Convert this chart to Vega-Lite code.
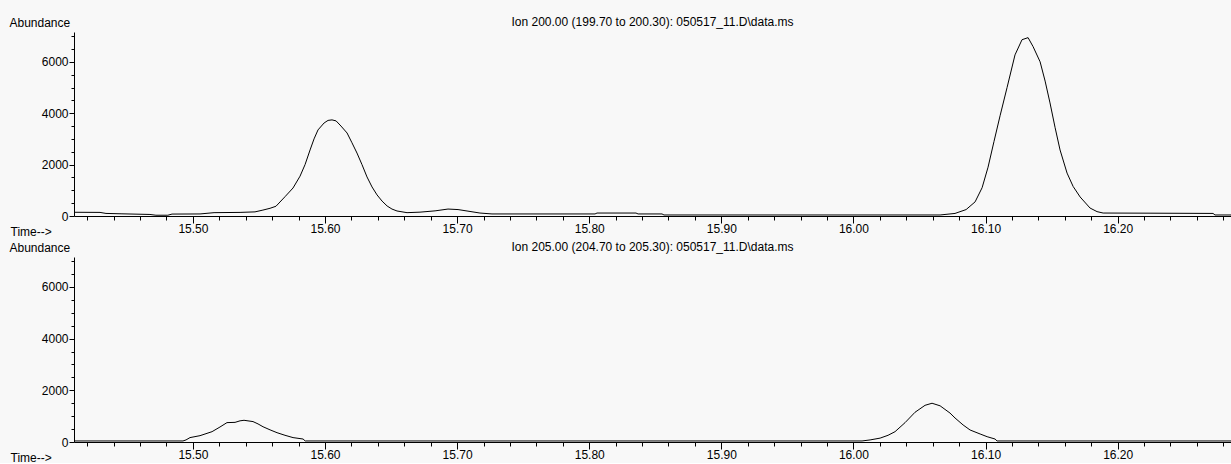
{
  "$schema": "https://vega.github.io/schema/vega-lite/v6.json",
  "background": "#f8f8f8",
  "padding": {"left": 9, "top": 16, "right": 0, "bottom": 0},
  "bounds": "flush",
  "spacing": 41,
  "config": {
    "view": {"stroke": null},
    "font": "Liberation Sans",
    "axis": {
      "labelFont": "Liberation Sans", "labelFontSize": 12, "labelColor": "#000",
      "titleFont": "Liberation Sans", "titleFontSize": 12, "titleFontWeight": "normal", "titleColor": "#000",
      "domainColor": "#000", "tickColor": "#000", "grid": false, "labelOverlap": false, "labelFlush": false
    },
    "title": {"font": "Liberation Sans", "fontSize": 12, "fontWeight": "normal", "color": "#000", "anchor": "middle", "offset": -13}
  },
  "datasets": {
    "chrom": [
      {"ion": "200", "t": 15.410, "abundance": 145},
      {"ion": "200", "t": 15.4297, "abundance": 140},
      {"ion": "200", "t": 15.4342, "abundance": 100},
      {"ion": "200", "t": 15.4463, "abundance": 85},
      {"ion": "200", "t": 15.4675, "abundance": 60},
      {"ion": "200", "t": 15.4720, "abundance": 30},
      {"ion": "200", "t": 15.4810, "abundance": 30},
      {"ion": "200", "t": 15.4842, "abundance": 75},
      {"ion": "200", "t": 15.5054, "abundance": 80},
      {"ion": "200", "t": 15.5160, "abundance": 130},
      {"ion": "200", "t": 15.5357, "abundance": 140},
      {"ion": "200", "t": 15.5470, "abundance": 160},
      {"ion": "200", "t": 15.5530, "abundance": 230},
      {"ion": "200", "t": 15.5584, "abundance": 300},
      {"ion": "200", "t": 15.5629, "abundance": 380},
      {"ion": "200", "t": 15.5697, "abundance": 750},
      {"ion": "200", "t": 15.5758, "abundance": 1090},
      {"ion": "200", "t": 15.5811, "abundance": 1550},
      {"ion": "200", "t": 15.5849, "abundance": 2000},
      {"ion": "200", "t": 15.5887, "abundance": 2570},
      {"ion": "200", "t": 15.5917, "abundance": 3000},
      {"ion": "200", "t": 15.5947, "abundance": 3350},
      {"ion": "200", "t": 15.5993, "abundance": 3620},
      {"ion": "200", "t": 15.6023, "abundance": 3720},
      {"ion": "200", "t": 15.6053, "abundance": 3740},
      {"ion": "200", "t": 15.6084, "abundance": 3700},
      {"ion": "200", "t": 15.6121, "abundance": 3500},
      {"ion": "200", "t": 15.6167, "abundance": 3230},
      {"ion": "200", "t": 15.6204, "abundance": 2850},
      {"ion": "200", "t": 15.6242, "abundance": 2450},
      {"ion": "200", "t": 15.6280, "abundance": 2000},
      {"ion": "200", "t": 15.6318, "abundance": 1520},
      {"ion": "200", "t": 15.6356, "abundance": 1130},
      {"ion": "200", "t": 15.6394, "abundance": 820},
      {"ion": "200", "t": 15.6432, "abundance": 580},
      {"ion": "200", "t": 15.6470, "abundance": 390},
      {"ion": "200", "t": 15.6507, "abundance": 270},
      {"ion": "200", "t": 15.6545, "abundance": 195},
      {"ion": "200", "t": 15.6621, "abundance": 130},
      {"ion": "200", "t": 15.6719, "abundance": 150},
      {"ion": "200", "t": 15.6833, "abundance": 200},
      {"ion": "200", "t": 15.6931, "abundance": 270},
      {"ion": "200", "t": 15.7007, "abundance": 250},
      {"ion": "200", "t": 15.7075, "abundance": 195},
      {"ion": "200", "t": 15.7173, "abundance": 115},
      {"ion": "200", "t": 15.7264, "abundance": 80},
      {"ion": "200", "t": 15.8044, "abundance": 80},
      {"ion": "200", "t": 15.8059, "abundance": 115},
      {"ion": "200", "t": 15.8354, "abundance": 115},
      {"ion": "200", "t": 15.8370, "abundance": 80},
      {"ion": "200", "t": 15.8551, "abundance": 80},
      {"ion": "200", "t": 15.8566, "abundance": 40},
      {"ion": "200", "t": 16.0656, "abundance": 40},
      {"ion": "200", "t": 16.0769, "abundance": 100},
      {"ion": "200", "t": 16.0853, "abundance": 250},
      {"ion": "200", "t": 16.0921, "abundance": 550},
      {"ion": "200", "t": 16.0974, "abundance": 1100},
      {"ion": "200", "t": 16.1019, "abundance": 1900},
      {"ion": "200", "t": 16.1064, "abundance": 2900},
      {"ion": "200", "t": 16.1110, "abundance": 3900},
      {"ion": "200", "t": 16.1163, "abundance": 5000},
      {"ion": "200", "t": 16.1223, "abundance": 6270},
      {"ion": "200", "t": 16.1276, "abundance": 6860},
      {"ion": "200", "t": 16.1322, "abundance": 6940},
      {"ion": "200", "t": 16.1360, "abundance": 6590},
      {"ion": "200", "t": 16.1413, "abundance": 6000},
      {"ion": "200", "t": 16.1451, "abundance": 5250},
      {"ion": "200", "t": 16.1488, "abundance": 4400},
      {"ion": "200", "t": 16.1526, "abundance": 3450},
      {"ion": "200", "t": 16.1564, "abundance": 2570},
      {"ion": "200", "t": 16.1617, "abundance": 1670},
      {"ion": "200", "t": 16.1663, "abundance": 1150},
      {"ion": "200", "t": 16.1716, "abundance": 740},
      {"ion": "200", "t": 16.1791, "abundance": 310},
      {"ion": "200", "t": 16.1844, "abundance": 170},
      {"ion": "200", "t": 16.1890, "abundance": 115},
      {"ion": "200", "t": 16.2245, "abundance": 110},
      {"ion": "200", "t": 16.2722, "abundance": 100},
      {"ion": "200", "t": 16.2737, "abundance": 40},
      {"ion": "200", "t": 16.2858, "abundance": 40},
      {"ion": "205", "t": 15.410, "abundance": 40},
      {"ion": "205", "t": 15.4925, "abundance": 40},
      {"ion": "205", "t": 15.4948, "abundance": 80},
      {"ion": "205", "t": 15.4978, "abundance": 170},
      {"ion": "205", "t": 15.5054, "abundance": 245},
      {"ion": "205", "t": 15.5145, "abundance": 400},
      {"ion": "205", "t": 15.5205, "abundance": 580},
      {"ion": "205", "t": 15.5258, "abundance": 750},
      {"ion": "205", "t": 15.5319, "abundance": 760},
      {"ion": "205", "t": 15.5357, "abundance": 820},
      {"ion": "205", "t": 15.5387, "abundance": 840},
      {"ion": "205", "t": 15.5455, "abundance": 790},
      {"ion": "205", "t": 15.5493, "abundance": 700},
      {"ion": "205", "t": 15.5531, "abundance": 590},
      {"ion": "205", "t": 15.5584, "abundance": 470},
      {"ion": "205", "t": 15.5637, "abundance": 360},
      {"ion": "205", "t": 15.5697, "abundance": 260},
      {"ion": "205", "t": 15.5758, "abundance": 170},
      {"ion": "205", "t": 15.5834, "abundance": 115},
      {"ion": "205", "t": 15.5850, "abundance": 40},
      {"ion": "205", "t": 16.0065, "abundance": 40},
      {"ion": "205", "t": 16.0126, "abundance": 80},
      {"ion": "205", "t": 16.0202, "abundance": 150},
      {"ion": "205", "t": 16.0262, "abundance": 260},
      {"ion": "205", "t": 16.0315, "abundance": 400},
      {"ion": "205", "t": 16.0391, "abundance": 750},
      {"ion": "205", "t": 16.0466, "abundance": 1150},
      {"ion": "205", "t": 16.0542, "abundance": 1420},
      {"ion": "205", "t": 16.0595, "abundance": 1500},
      {"ion": "205", "t": 16.0656, "abundance": 1400},
      {"ion": "205", "t": 16.0731, "abundance": 1120},
      {"ion": "205", "t": 16.0769, "abundance": 930},
      {"ion": "205", "t": 16.0830, "abundance": 660},
      {"ion": "205", "t": 16.0883, "abundance": 465},
      {"ion": "205", "t": 16.0959, "abundance": 310},
      {"ion": "205", "t": 16.1012, "abundance": 205},
      {"ion": "205", "t": 16.1072, "abundance": 115},
      {"ion": "205", "t": 16.1087, "abundance": 40},
      {"ion": "205", "t": 16.2858, "abundance": 40}
    ]
  },
  "vconcat": [
    {
      "width": 1157,
      "height": 184,
      "title": {"text": "Ion 200.00 (199.70 to 200.30): 050517_11.D\\data.ms"},
      "data": {"name": "chrom"},
      "transform": [{"filter": "datum.ion == '200'"}],
      "mark": {"type": "line", "color": "#000", "strokeWidth": 1, "clip": true, "interpolate": "linear"},
      "encoding": {
        "x": {
          "field": "t", "type": "quantitative",
          "scale": {"domain": [15.41, 16.2858], "nice": false, "zero": false},
          "axis": {
            "title": "Time-->", "titleX": -64, "titleY": 15, "titleAlign": "left", "titleBaseline": "middle", "titleAnchor": null,
            "values": [15.42,15.44,15.46,15.48,15.5,15.52,15.54,15.56,15.58,15.6,15.62,15.64,15.66,15.68,15.7,15.72,15.74,15.76,15.78,15.8,15.82,15.84,15.86,15.88,15.9,15.92,15.94,15.96,15.98,16.0,16.02,16.04,16.06,16.08,16.1,16.12,16.14,16.16,16.18,16.2,16.22,16.24,16.26,16.28],
            "format": ".2f",
            "labelExpr": "abs(datum.value*10 - round(datum.value*10)) < 0.01 ? datum.label : ''",
            "tickSize": {"condition": {"test": "abs(datum.value*10 - round(datum.value*10)) < 0.01", "value": 7}, "value": 4},
            "labelPadding": 0
          }
        },
        "y": {
          "field": "abundance", "type": "quantitative",
          "scale": {"domain": [0, 7160], "nice": false},
          "axis": {
            "title": "Abundance", "titleAngle": 0, "titleX": -65, "titleY": -10, "titleAlign": "left", "titleBaseline": "middle", "titleAnchor": null,
            "values": [0,500,1000,1500,2000,2500,3000,3500,4000,4500,5000,5500,6000,6500,7000],
            "format": "d",
            "labelExpr": "datum.value % 2000 == 0 ? datum.label : ''",
            "tickSize": {"condition": {"test": "datum.value % 2000 == 0", "value": 5}, "value": 3},
            "labelPadding": 1
          }
        }
      }
    },
    {
      "width": 1157,
      "height": 185,
      "title": {"text": "Ion 205.00 (204.70 to 205.30): 050517_11.D\\data.ms"},
      "data": {"name": "chrom"},
      "transform": [{"filter": "datum.ion == '205'"}],
      "mark": {"type": "line", "color": "#000", "strokeWidth": 1, "clip": true, "interpolate": "linear"},
      "encoding": {
        "x": {
          "field": "t", "type": "quantitative",
          "scale": {"domain": [15.41, 16.2858], "nice": false, "zero": false},
          "axis": {
            "title": "Time-->", "titleX": -64, "titleY": 15, "titleAlign": "left", "titleBaseline": "middle", "titleAnchor": null,
            "values": [15.42,15.44,15.46,15.48,15.5,15.52,15.54,15.56,15.58,15.6,15.62,15.64,15.66,15.68,15.7,15.72,15.74,15.76,15.78,15.8,15.82,15.84,15.86,15.88,15.9,15.92,15.94,15.96,15.98,16.0,16.02,16.04,16.06,16.08,16.1,16.12,16.14,16.16,16.18,16.2,16.22,16.24,16.26,16.28],
            "format": ".2f",
            "labelExpr": "abs(datum.value*10 - round(datum.value*10)) < 0.01 ? datum.label : ''",
            "tickSize": {"condition": {"test": "abs(datum.value*10 - round(datum.value*10)) < 0.01", "value": 7}, "value": 4},
            "labelPadding": 0
          }
        },
        "y": {
          "field": "abundance", "type": "quantitative",
          "scale": {"domain": [0, 7160], "nice": false},
          "axis": {
            "title": "Abundance", "titleAngle": 0, "titleX": -65, "titleY": -10, "titleAlign": "left", "titleBaseline": "middle", "titleAnchor": null,
            "values": [0,500,1000,1500,2000,2500,3000,3500,4000,4500,5000,5500,6000,6500,7000],
            "format": "d",
            "labelExpr": "datum.value % 2000 == 0 ? datum.label : ''",
            "tickSize": {"condition": {"test": "datum.value % 2000 == 0", "value": 5}, "value": 3},
            "labelPadding": 1
          }
        }
      }
    }
  ]
}
